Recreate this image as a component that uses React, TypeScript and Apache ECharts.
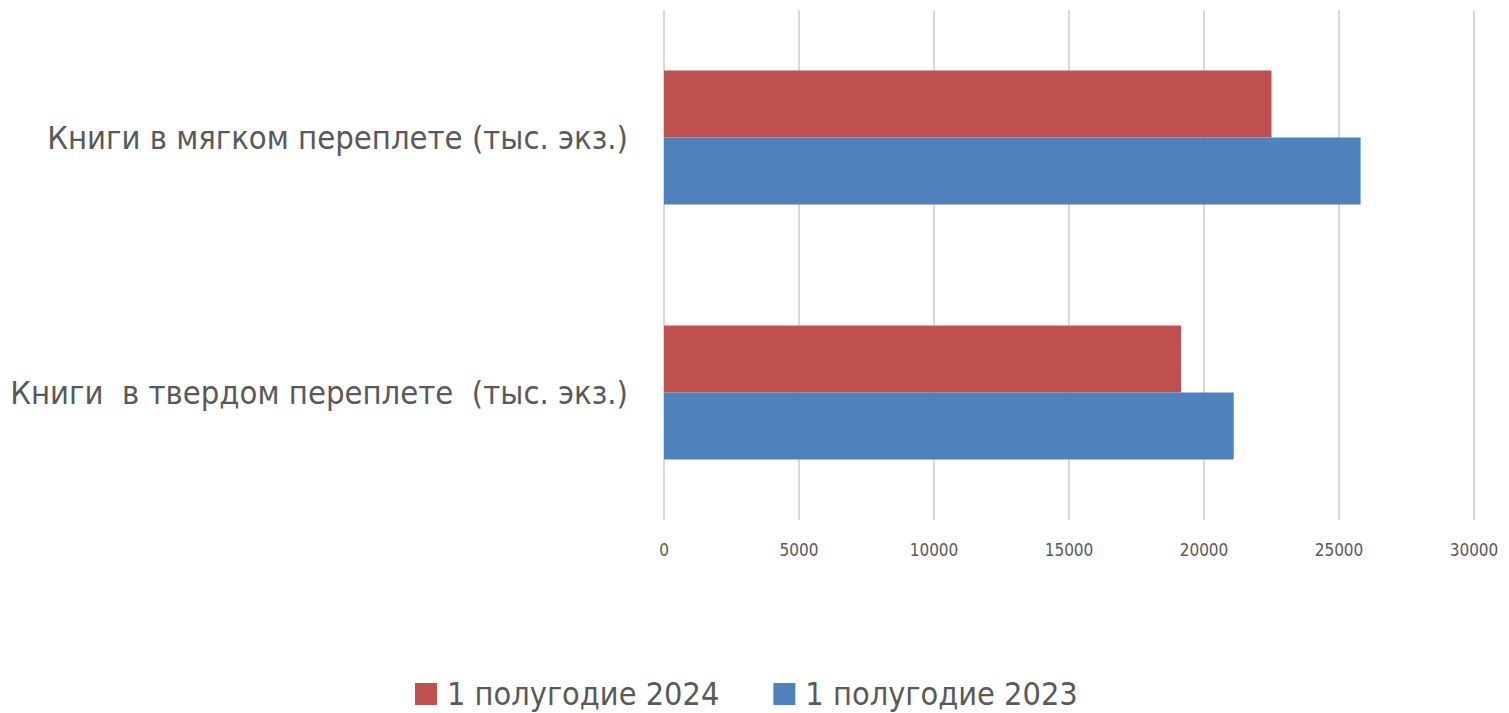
import React, { useEffect, useRef } from "react";
import * as echarts from "echarts";

const categories = [
  "Книги  в твердом переплете  (тыс. экз.)",
  "Книги в мягком переплете (тыс. экз.)",
];
const series2024 = [19150, 22500];
const series2023 = [21100, 25800];
const seriesNames = ["1 полугодие 2024", "1 полугодие 2023"];
const xMin = 0;
const xMax = 30000;
const xInterval = 5000;

const FONT = "'Liberation Sans Narrow', 'DejaVu Sans Condensed', 'Noto Sans', sans-serif";

export default function App() {
  const ref = useRef<HTMLDivElement>(null);
  useEffect(() => {
    if (!ref.current) return;
    const chart = echarts.init(ref.current, undefined, { renderer: "svg" });
    chart.setOption({
      animation: false,
      backgroundColor: "#ffffff",
      textStyle: { fontFamily: FONT },
      grid: { left: 664, right: 35, top: 10, bottom: 193, containLabel: false },
      legend: {
        data: seriesNames,
        bottom: -2,
        left: 410,
        itemWidth: 22,
        itemHeight: 22,
        itemGap: 54,
        icon: "rect",
        textStyle: { fontSize: 32.2, color: "#595959", fontFamily: FONT, padding: [0, 0, 0, 5] },
      },
      xAxis: {
        type: "value",
        min: xMin,
        max: xMax,
        interval: xInterval,
        axisLine: { show: false },
        axisTick: { show: false },
        splitLine: { show: true, lineStyle: { color: "#d9d9d9", width: 2 } },
        axisLabel: {
          fontSize: 17,
          color: "#595959",
          margin: 21,
          fontFamily: FONT,
          formatter: (v: number) => String(v),
        },
      },
      yAxis: {
        type: "category",
        data: categories,
        axisLine: { show: false },
        axisTick: { show: false },
        axisLabel: { fontSize: 32.5, color: "#595959", margin: 36, fontFamily: FONT },
      },
      series: [
        {
          name: seriesNames[0],
          type: "bar",
          data: series2024,
          barWidth: 67,
          barGap: "0%",
          itemStyle: { color: "#C0504D" },
        },
        {
          name: seriesNames[1],
          type: "bar",
          data: series2023,
          barWidth: 67,
          barGap: "0%",
          itemStyle: { color: "#4F81BD" },
        },
      ],
    });
    return () => chart.dispose();
  }, []);
  return (
    <div
      ref={ref}
      style={{ position: "fixed", left: 0, top: 0, width: 1509, height: 713 }}
    />
  );
}
